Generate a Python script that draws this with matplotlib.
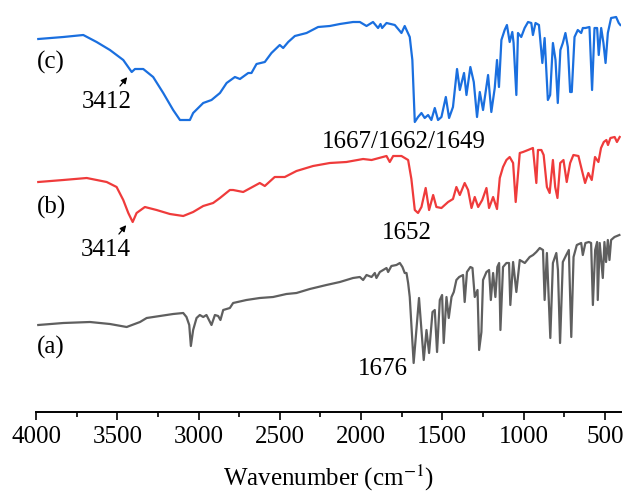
import matplotlib
matplotlib.use("Agg")
import matplotlib.pyplot as plt
from matplotlib.ticker import MultipleLocator

plt.rcParams['font.family'] = ['Liberation Serif', 'DejaVu Serif']
plt.rcParams['mathtext.fontset'] = 'stix'

# (c) spectrum - wavenumber / transmittance (arb. units)
wn_c = [3986, 3832, 3709, 3627, 3545, 3463, 3411, 3391, 3340, 3279, 3217, 3156, 3114, 3053, 3033,
        2971, 2920, 2868, 2827, 2776, 2745, 2694, 2674, 2643, 2592, 2551, 2500, 2479, 2448, 2407,
        2335, 2264, 2192, 2130, 2049, 2007, 1966, 1926, 1895, 1880, 1870, 1843, 1792, 1751, 1731,
        1700, 1684, 1669, 1649, 1628, 1608, 1587, 1567, 1546, 1526, 1505, 1478, 1458, 1434, 1409,
        1392, 1366, 1351, 1327, 1306, 1286, 1269, 1249, 1218, 1198, 1177, 1163, 1151, 1136, 1116,
        1102, 1085, 1069, 1061, 1044, 1034, 1014, 993, 972, 952, 942, 926, 905, 884, 870,
        850, 836, 819, 803, 789, 773, 758, 742, 727, 713, 703, 686, 666, 645, 635,
        619, 594, 578, 563, 547, 537, 522, 508, 495, 481, 461, 430, 414, 404]
t_c = [373, 375, 377, 370, 362, 352, 340, 343, 343, 335, 319, 302, 292, 292, 299,
       309, 312, 319, 329, 335, 333, 339, 339, 348, 350, 359, 367, 364, 370, 376,
       379, 385, 386, 388, 390, 390, 386, 390, 384, 388, 384, 389, 387, 379, 386,
       375, 352, 290, 295, 299, 294, 297, 292, 304, 292, 295, 315, 294, 305, 343,
       322, 339, 317, 345, 330, 295, 320, 302, 337, 300, 324, 352, 325, 372, 382,
       387, 370, 380, 369, 317, 379, 375, 384, 390, 389, 377, 389, 387, 349, 374,
       312, 317, 369, 352, 309, 362, 369, 379, 365, 320, 320, 375, 382, 379, 384,
       384, 385, 322, 384, 384, 357, 384, 369, 349, 379, 394, 395, 389, 387]

# (b) spectrum
wn_b = [3986, 3832, 3688, 3565, 3504, 3463, 3432, 3405, 3381, 3330, 3258, 3176, 3094, 3033, 2971,
        2910, 2868, 2807, 2787, 2725, 2623, 2592, 2531, 2469, 2397, 2295, 2192, 2090, 1987, 1935,
        1843, 1823, 1802, 1751, 1710, 1690, 1669, 1649, 1628, 1602, 1581, 1556, 1536, 1505, 1464,
        1434, 1413, 1392, 1362, 1341, 1320, 1300, 1279, 1254, 1228, 1212, 1187, 1163, 1146, 1126,
        1105, 1085, 1064, 1048, 1023, 1003, 972, 942, 921, 911, 890, 876, 856, 839, 819,
        805, 791, 774, 754, 734, 713, 693, 662, 641, 621, 601, 580, 560, 539, 523,
        506, 490, 480, 465, 439, 425, 408]
t_b = [230, 232, 234, 230, 225, 212, 199, 190, 199, 205, 202, 198, 196, 200, 206,
       209, 214, 222, 222, 220, 229, 226, 235, 235, 241, 246, 249, 250, 253, 252,
       256, 250, 256, 256, 252, 233, 202, 199, 205, 224, 202, 217, 205, 204, 210,
       213, 225, 217, 229, 222, 204, 215, 205, 212, 224, 204, 215, 203, 234, 245,
       252, 255, 249, 210, 259, 260, 262, 264, 229, 262, 262, 257, 225, 219, 252,
       225, 214, 249, 252, 230, 249, 257, 256, 242, 229, 239, 232, 255, 250, 264,
       270, 272, 267, 274, 275, 270, 275]

# (a) spectrum
wn_a = [3986, 3832, 3668, 3545, 3442, 3360, 3319, 3237, 3156, 3094, 3074, 3057, 3047, 3033, 3012,
        2992, 2971, 2951, 2920, 2899, 2879, 2865, 2848, 2807, 2787, 2705, 2623, 2541, 2459, 2397,
        2315, 2213, 2130, 2049, 2007, 1987, 1966, 1935, 1915, 1905, 1884, 1843, 1833, 1813, 1782,
        1761, 1745, 1731, 1720, 1710, 1700, 1684, 1676, 1659, 1643, 1628, 1614, 1597, 1581, 1560,
        1546, 1532, 1515, 1501, 1491, 1474, 1460, 1443, 1429, 1413, 1396, 1372, 1362, 1348, 1327,
        1314, 1300, 1283, 1273, 1259, 1249, 1228, 1212, 1201, 1187, 1173, 1161, 1150, 1142, 1126,
        1105, 1089, 1081, 1064, 1044, 1023, 992, 962, 941, 921, 900, 880, 870, 856, 835,
        819, 798, 788, 775, 758, 737, 721, 706, 692, 672, 645, 635, 619, 598, 584,
        573, 559, 547, 543, 531, 512, 502, 492, 481, 471, 461, 440, 410]
t_a = [87, 89, 90, 88, 85, 90, 94, 96, 98, 99, 95, 87, 66, 82, 94,
       97, 95, 97, 87, 97, 96, 92, 102, 104, 109, 112, 114, 115, 118, 119,
       123, 127, 130, 134, 135, 132, 137, 135, 139, 134, 140, 144, 140, 146, 147,
       149, 145, 139, 139, 129, 115, 72, 49, 82, 114, 82, 52, 82, 59, 100,
       102, 60, 112, 117, 69, 115, 94, 115, 120, 132, 135, 137, 110, 140, 145,
       144, 115, 122, 62, 80, 132, 140, 142, 112, 139, 115, 145, 149, 82, 145,
       149, 149, 107, 150, 120, 152, 149, 155, 157, 160, 164, 162, 112, 159, 74,
       149, 159, 142, 69, 150, 157, 162, 75, 155, 167, 169, 157, 169, 170, 169,
       107, 162, 170, 112, 169, 134, 170, 150, 172, 152, 172, 175, 177]

xticks = [4000, 3500, 3000, 2500, 2000, 1500, 1000, 500]

fig = plt.figure(figsize=(6.23, 4.94), dpi=100)
ax = fig.add_axes([36/623, 82/494, 585/623, 412/494])

ax.plot(wn_a, t_a, color='#5f5f5f', lw=1.6)
ax.plot(wn_b, t_b, color='#ef3b3b', lw=1.6)
ax.plot(wn_c, t_c, color='#1a6fdf', lw=1.6)

ax.set_xlim(4000, 400)
ax.set_ylim(0, 412)
ax.set_xticks(xticks)
ax.xaxis.set_minor_locator(MultipleLocator(250))
ax.tick_params(axis='x', which='major', direction='out', length=6, width=1.2,
               labelsize=18, pad=4)
ax.tick_params(axis='x', which='minor', direction='out', length=3.5, width=1.2)
ax.set_yticks([])
for s in ['left', 'right', 'top']:
    ax.spines[s].set_visible(False)
ax.spines['bottom'].set_linewidth(1.4)
ax.set_xlabel(r'Wavenumber (cm$^{-1}$)', fontsize=18, labelpad=11)

fs = 18
ax.text(3994, 350, '(c)', fontsize=fs, ha='left', va='center')
ax.text(3994, 205, '(b)', fontsize=fs, ha='left', va='center')
ax.text(3994, 65, '(a)', fontsize=fs, ha='left', va='center')
ax.text(1737, 270, '1667/1662/1649', fontsize=fs, ha='center', va='center')
ax.text(1718, 179, '1652', fontsize=fs, ha='center', va='center')
ax.text(1866, 43, '1676', fontsize=fs, ha='center', va='center')

arr = dict(arrowstyle='-|>', color='black', lw=0.9, mutation_scale=9)
ax.annotate('3412', xy=(3428, 337), xytext=(3563, 310), fontsize=fs,
            ha='center', va='center', arrowprops=arr)
ax.annotate('3414', xy=(3434, 189), xytext=(3570, 162), fontsize=fs,
            ha='center', va='center', arrowprops=arr)

fig.savefig('out.png', dpi=100)
